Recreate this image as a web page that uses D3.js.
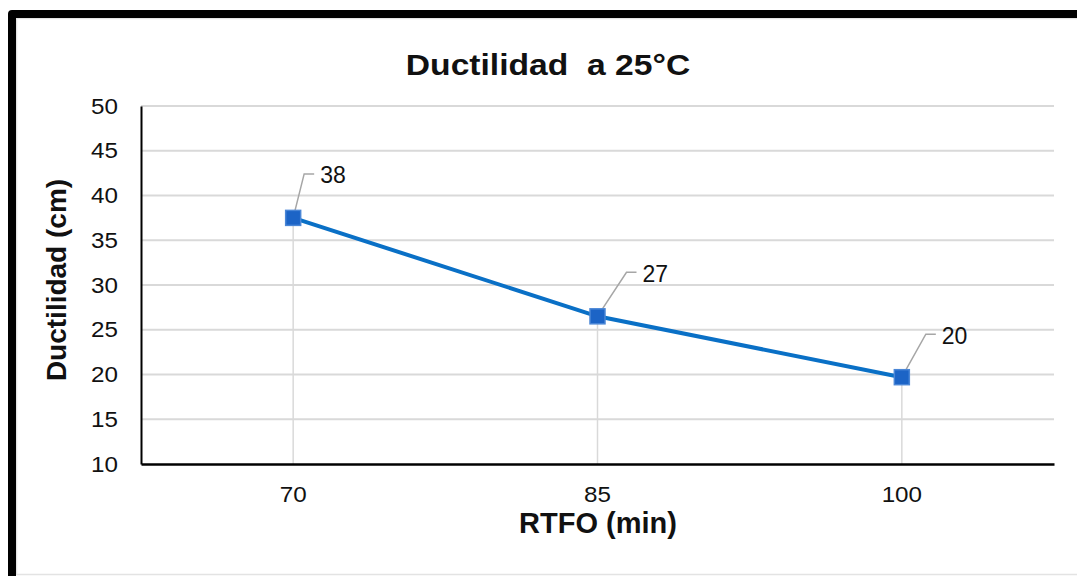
<!DOCTYPE html>
<html lang="es">
<head>
    <meta charset="UTF-8">
    <title>Ductilidad</title>
    <script src="https://cdn.jsdelivr.net/npm/d3@7/dist/d3.min.js"></script>
    <style>
        body { margin: 0; background: #fff; }
        text { font-family: "Liberation Sans", Arial, sans-serif; }
    </style>
</head>
<body>
<svg width="1077" height="576" id="main"></svg>
<script>
    // datos
    const categories = ['70', '85', '100'];
    const values = [37.5, 26.5, 19.7];
    const yTicks = [10, 15, 20, 25, 30, 35, 40, 45, 50];

    let svg = d3.select('#main');
    let margin = {top: 106, right: 23, bottom: 112, left: 141};
    const innerWidth = 1077 - margin.left - margin.right;
    const innerHeight = 576 - margin.top - margin.bottom;

    // marco negro
    svg.append('rect').attr('x', 16.5).attr('y', 18.5).attr('width', 1062).attr('height', 556)
        .attr('fill', '#fff').attr('stroke', '#e3e3e3').attr('stroke-width', 1.5);
    svg.append('path').attr('d', 'M12,580 V14 H1080')
        .attr('fill', 'none').attr('stroke', '#000').attr('stroke-width', 8)
        .attr('stroke-linejoin', 'round');

    let xScale = d3.scaleBand().domain(categories).range([0, innerWidth]);
    let yScale = d3.scaleLinear().domain([10, 50]).range([innerHeight, 0]);
    const cx = c => xScale(c) + xScale.bandwidth() / 2;

    let g = svg.append('g').attr('transform', `translate(${margin.left}, ${margin.top})`);

    // rejilla
    g.append('g').selectAll('line').data(yTicks.slice(1)).join('line')
        .attr('x1', 0).attr('x2', innerWidth)
        .attr('y1', d => yScale(d)).attr('y2', d => yScale(d))
        .attr('stroke', '#d9d9d9').attr('stroke-width', 2);

    // lineas de caida
    g.append('g').selectAll('line').data(values).join('line')
        .attr('x1', (d, i) => cx(categories[i])).attr('x2', (d, i) => cx(categories[i]))
        .attr('y1', d => yScale(d)).attr('y2', innerHeight)
        .attr('stroke', '#d9d9d9').attr('stroke-width', 1.5);

    const sx = 1.1;

    // ejes
    let yAxis = d3.axisLeft(yScale).tickValues(yTicks).tickSize(0);
    let ya = g.append('g').call(yAxis);
    ya.select('.domain').attr('stroke', '#000').attr('stroke-width', 2);
    ya.selectAll('.tick text').attr('x', -23 / sx).attr('transform', `scale(${sx},1)`);

    let xAxis = d3.axisBottom(xScale).tickSize(0).tickPadding(22);
    let xa = g.append('g').attr('transform', `translate(0, ${innerHeight})`).call(xAxis);
    xa.select('.domain').attr('stroke', '#000').attr('stroke-width', 2.5);
    xa.selectAll('.tick text').attr('transform', `scale(${sx},1)`);

    svg.selectAll('.tick text').attr('font-size', '22px').attr('fill', '#111')
        .attr('font-family', '"Liberation Sans", Arial, sans-serif');

    // serie
    let line = d3.line().x((d, i) => cx(categories[i])).y(d => yScale(d));
    g.append('path').datum(values).attr('d', line)
        .attr('fill', 'none').attr('stroke', '#0a70c6').attr('stroke-width', 4);

    // etiquetas con lineas guia
    const lab = g.append('g');
    values.forEach((v, i) => {
        const x = cx(categories[i]), y = yScale(v);
        const dx = [11, 29, 24][i], dy = [-44, -44, -43][i];
        lab.append('path').attr('d', `M${x},${y} L${x + dx},${y + dy} H${x + dx + 10}`)
            .attr('fill', 'none').attr('stroke', '#a6a6a6').attr('stroke-width', 1.5);
        lab.append('text').attr('x', x + dx + 16).attr('y', y + dy + 9.5)
            .attr('font-size', '23px').attr('fill', '#111').text(Math.round(v));
    });

    g.append('g').selectAll('rect').data(values).join('rect')
        .attr('x', (d, i) => cx(categories[i]) - 7.5).attr('y', d => yScale(d) - 7.5)
        .attr('width', 15).attr('height', 15)
        .attr('fill', '#1c64c6').attr('stroke', '#4a86d6').attr('stroke-width', 1.5);

    // titulos
    svg.append('text').text('Ductilidad  a 25°C').attr('xml:space', 'preserve')
        .attr('transform', `translate(548, 75) scale(1.16,1)`).attr('text-anchor', 'middle')
        .attr('font-size', '29px').attr('font-weight', 'bold').attr('fill', '#111');

    svg.append('text').text('RTFO (min)')
        .attr('x', 598).attr('y', 533).attr('text-anchor', 'middle')
        .attr('font-size', '29px').attr('font-weight', 'bold').attr('fill', '#111');

    svg.append('text').text('Ductilidad (cm)')
        .attr('transform', `translate(66, 280) rotate(-90)`)
        .attr('text-anchor', 'middle')
        .attr('font-size', '28px').attr('font-weight', 'bold').attr('fill', '#111');
</script>
</body>
</html>
